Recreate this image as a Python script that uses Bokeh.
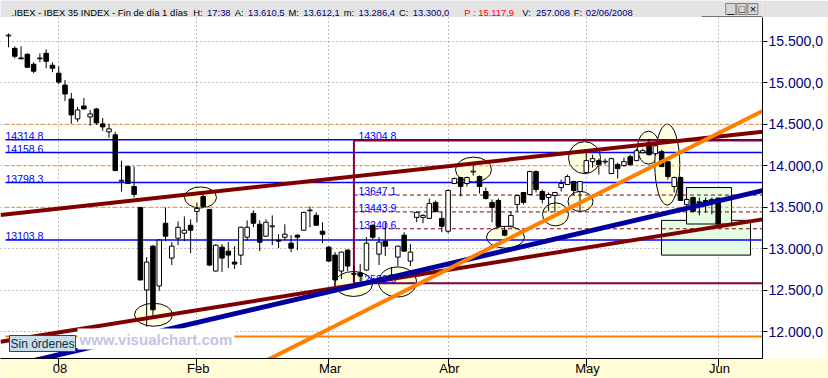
from bokeh.plotting import figure
from bokeh.models import Range1d, FixedTicker, Label
from bokeh.layouts import column
from bokeh.embed import file_html
from bokeh.resources import INLINE
from bokeh.core.properties import value

FONT = value("Liberation Sans")

# ---------------- data (bar index, OHLC) ----------------
opens = [15565, 15416, 15300, 15344, 15224, 15290, 15356, 15212, 15116, 14973,
         14805, 14565, 14721, 14589, 14685, 14505, 14409, 14373, 13815, 13990,
         13750, 13498, 12503, 13031, 12551, 13307, 12887, 13127, 13187, 13283,
         13450, 13630, 13474, 12731, 13019, 12971, 12839, 12923, 13139, 13426,
         13295, 13151, 13265, 13103, 13139, 13067, 13163, 13223, 13458, 13402,
         13211, 13019, 12923, 12731, 12983, 12690, 12707, 12743, 13283, 12935,
         13091, 12683, 12899, 13163, 12851, 13378, 13378, 13366, 13558, 13366,
         13211, 13786, 13858, 13786, 13925, 13870, 13690, 13558, 13582, 13223,
         13271, 13534, 13678, 13654, 13930, 13690, 13618, 13642, 13738, 13774,
         13810, 13690, 13918, 14050, 14062, 14045, 13906, 14014, 14002, 14110,
         14062, 14158, 14277, 14146, 14170, 14050, 13750, 13858, 13534, 13618,
         13565, 13582, 13594, 13610.5]
highs = [15596, 15440, 15440, 15356, 15248, 15356, 15404, 15248, 15200, 15033,
         14877, 14709, 14817, 14673, 14697, 14577, 14505, 14409, 14062, 14002,
         13990, 13500, 12899, 13043, 13115, 13498, 13079, 13330, 13390, 13354,
         13558, 13654, 13480, 13055, 13055, 13079, 13031, 13265, 13342, 13462,
         13342, 13354, 13402, 13175, 13295, 13163, 13175, 13445, 13510, 13438,
         13319, 13031, 12959, 12965, 12995, 12791, 12815, 13139, 13290, 13139,
         13319, 12779, 13035, 13199, 13055, 13450, 13414, 13606, 13582, 13450,
         13714, 13858, 13862, 13870, 14026, 13882, 13738, 13594, 13606, 13271,
         13450, 13648, 13685, 13942, 13942, 13714, 13678, 13685, 13834, 13894,
         13822, 13815, 14170, 14134, 14086, 14086, 14098, 14038, 14098, 14134,
         14206, 14206, 14325, 14265, 14194, 14055, 13870, 13870, 13606, 13625,
         13618, 13618, 13618, 13612.1]
lows = [15428, 15296, 15284, 15185, 15116, 15248, 15176, 15128, 14985, 14781,
        14505, 14529, 14680, 14481, 14493, 14421, 14337, 13940, 13690, 13780,
        13618, 12620, 12060, 12156, 12491, 13091, 12803, 13043, 13091, 12947,
        13319, 13505, 12791, 12725, 12719, 12767, 12755, 12803, 13103, 13259,
        12971, 13145, 13043, 13007, 13103, 12959, 12983, 13218, 13259, 13280,
        13067, 12845, 12527, 12635, 12731, 12599, 12575, 12731, 13115, 12803,
        12911, 12623, 12791, 12965, 12791, 13319, 13307, 13360, 13438, 13199,
        13187, 13780, 13630, 13750, 13882, 13666, 13594, 13319, 13247, 13151,
        13265, 13450, 13534, 13648, 13678, 13546, 13450, 13438, 13690, 13768,
        13642, 13450, 13912, 13978, 13894, 14014, 13900, 13846, 13990, 14002,
        14055, 14152, 14122, 14122, 13985, 13834, 13678, 13577, 13522, 13438,
        13402, 13438, 13414, 13286.4]
closes = [15575, 15320, 15290, 15188, 15140, 15300, 15260, 15176, 15009, 14865,
          14613, 14673, 14685, 14625, 14517, 14469, 14445, 13942, 13825, 13786,
          13654, 12623, 12839, 12264, 13103, 13151, 13031, 13259, 13223, 13223,
          13486, 13510, 12803, 13043, 12887, 12923, 12815, 13259, 13259, 13307,
          13079, 13319, 13275, 13091, 13175, 13007, 13139, 13438, 13466, 13283,
          13175, 12851, 12623, 12959, 12791, 12700, 12671, 13067, 13139, 13079,
          13031, 12659, 13031, 12971, 12959, 13438, 13402, 13546, 13450, 13271,
          13702, 13846, 13750, 13858, 13935, 13750, 13606, 13498, 13271, 13163,
          13402, 13642, 13558, 13930, 13714, 13594, 13654, 13678, 13786, 13870,
          13702, 13810, 14062, 14086, 14014, 14055, 14086, 13966, 14050, 14014,
          14182, 14182, 14134, 14241, 13990, 13870, 13858, 13582, 13594, 13450,
          13550, 13546, 13570, 13300.0]

month_tick_idx = [8, 30, 51, 70, 92, 113]
month_labels = ["08", "Feb", "Mar", "Abr", "May", "Jun"]
price_ticks = [12000, 12500, 13000, 13500, 14000, 14500, 15000, 15500]
price_labels = ["12.000,0", "12.500,0", "13.000,0", "13.500,0",
                "14.000,0", "14.500,0", "15.000,0", "15.500,0"]

# drawn objects
blue_levels = [14314.8, 14158.6, 13798.3, 13103.8]
orange_dashed_levels = [14500, 14000, 13500]
fib_start_idx = 55
fib_high = 14304.8
fib_low = 12582.9
fib_levels = [13647.1, 13443.9, 13240.6]
orange_support = 11943

trend_upper_x = [-1.274, 120.06]
trend_upper_y = [13407, 14409]
trend_lower_x = [-1.274, 120.06]
trend_lower_y = [11878, 13354]
trend_blue_x = [-1.274, 120.06]
trend_blue_y = [11558, 13700]
trend_orange_x = [38.54, 120.06]
trend_orange_y = [11557, 14661]

ell_x = [23.09, 30.57, 54.94, 61.94, 74.04, 79.14, 87.10, 91.08, 91.72, 101.9, 104.9]
ell_y = [12204, 13618, 12575, 12599, 13954, 13139, 13414, 13570, 14098, 14218, 14014]
ell_w = [38, 32, 38, 38, 36, 38, 26, 25, 32, 22, 25]
ell_h = [23, 21, 25, 30, 25, 22, 23, 20, 32, 33, 81]

box_left = [103.98, 107.96]
box_right = [118.15, 115.13]
box_top = [13342, 13738]
box_bottom = [12923, 13298]

last_close = 13300.0

X0, X1 = -1.274, 120.06
Y0, Y1 = 11676.5, 15787.7

YELLOW = "#fffcd6"

# ---------------- title bar ----------------
tf = figure(width=828, height=17, x_range=Range1d(0, 828), y_range=Range1d(0, 17),
            toolbar_location=None, output_backend="svg", min_border=0,
            x_axis_location=None, y_axis_location=None,
            background_fill_color="#e3e3e3", border_fill_color="#e3e3e3",
            outline_line_color=None)
tf.grid.visible = False
seg_x = [12, 209.5, 224.5, 254.5, 269, 313, 329, 373, 389, 433, 448, 504, 567, 582, 623, 636]
seg_t = [".IBEX - IBEX 35 INDEX - Fin de día 1 días", "H:", "17:38", "A:", "13.610,5",
         "M:", "13.612,1", "m:", "13.286,4", "C:", "13.300,0", "P : 15.117,9",
         "V:", "257.008", "F:", "02/06/2008"]
seg_c = ["black", "black", "#000080", "black", "#000080", "black", "#000080", "black",
         "#000080", "black", "#000080", "red", "black", "#000080", "black", "#000080"]
tf.text(x=seg_x, y=[5] * len(seg_x), text=seg_t, text_color=seg_c,
        text_font=FONT, text_font_size="9.4px", text_baseline="alphabetic")
tf.quad(left=[788, 800, 812], right=[799, 811, 823], top=[14, 14, 14], bottom=[3, 3, 3],
        fill_color="#d6d6d6", line_color="#808080")
tf.text(x=[793.5, 805.5, 817.5], y=[8.5, 8.5, 8.5], text=["_", "□", "×"],
        text_align="center", text_baseline="middle", text_font=FONT,
        text_font_size="11px", text_color="black")
tf.segment(x0=[762], y0=[0.5], x1=[828], y1=[0.5], line_color="black")

# ---------------- main chart ----------------
p = figure(width=828, height=361, x_range=Range1d(X0, X1), y_range=Range1d(Y0, Y1),
           output_backend="svg", toolbar_location=None,
           x_axis_location="below", y_axis_location="right",
           min_border_left=0, min_border_right=66, min_border_top=0, min_border_bottom=18,
           background_fill_color="white", border_fill_color=YELLOW,
           outline_line_color=None)

xa = p.xaxis[0]
xa.ticker = FixedTicker(ticks=month_tick_idx, minor_ticks=[])
xa.major_label_overrides = {t: "\u2009" + l for t, l in zip(month_tick_idx, month_labels)}
xa.major_tick_out = 8
xa.major_tick_in = 0
xa.major_tick_line_color = "black"
xa.axis_line_color = "black"
xa.major_label_standoff = -6
xa.major_label_text_align = "left"
xa.major_label_text_font = "Liberation Sans"
xa.major_label_text_font_size = "13px"
xa.major_label_text_color = "black"
xa.background_fill_color = YELLOW

ya = p.yaxis[0]
ya.ticker = FixedTicker(ticks=price_ticks, minor_ticks=[])
ya.major_label_overrides = {t: l for t, l in zip(price_ticks, price_labels)}
ya.major_tick_out = 5
ya.major_tick_in = 0
ya.major_tick_line_color = "black"
ya.axis_line_color = "black"
ya.major_label_standoff = 1
ya.major_label_text_font = "Liberation Sans"
ya.major_label_text_font_size = "14px"
ya.major_label_text_color = "#000080"
ya.major_label_text_align = "left"
ya.background_fill_color = "white"

for g in (p.xgrid[0], p.ygrid[0]):
    g.grid_line_color = "#808080"
    g.grid_line_dash = "1 3"
    g.grid_line_width = 1

# ellipses and boxes
p.ellipse(x=ell_x, y=ell_y, width=ell_w, height=ell_h, width_units="screen",
          height_units="screen", fill_color="#ffffe1", line_color="black", line_width=1)
p.quad(left=box_left, right=box_right, top=box_top, bottom=box_bottom,
       fill_color="#e4fce4", line_color="black", line_width=1)

LX = -0.48
# orange dashed levels
p.segment(x0=[LX] * 3, y0=orange_dashed_levels, x1=[X1] * 3, y1=orange_dashed_levels,
          line_color="#ff8000", line_width=1, line_dash="3 3")
# blue levels
p.segment(x0=[LX] * 4, y0=blue_levels, x1=[X1] * 4, y1=blue_levels,
          line_color="#0000ff", line_width=1.5)
p.text(x=[X0] * 4, y=blue_levels, text=["%.1f" % v for v in blue_levels], x_offset=5,
       y_offset=-4, text_baseline="alphabetic", text_font=FONT, text_font_size="10.5px",
       text_color="#0000ff")
# fib
p.segment(x0=[fib_start_idx] * 3, y0=fib_levels, x1=[X1] * 3, y1=fib_levels,
          line_color="#800000", line_width=1, line_dash="4 3")
p.segment(x0=[fib_start_idx, fib_start_idx, fib_start_idx],
          y0=[fib_high, fib_low, fib_high],
          x1=[X1, X1, fib_start_idx], y1=[fib_high, fib_low, fib_low],
          line_color="#800040", line_width=2)
fib_all = [fib_high] + fib_levels + [fib_low]
p.text(x=[fib_start_idx] * 5, y=fib_all, text=["%.1f" % v for v in fib_all], x_offset=4.5,
       y_offset=-4, text_baseline="alphabetic", text_font=FONT, text_font_size="10.5px",
       text_color="#0000ff")
# orange support
p.segment(x0=[LX], y0=[orange_support], x1=[X1], y1=[orange_support],
          line_color="#ff8000", line_width=2)

# candles
idx = list(range(len(opens)))
p.segment(x0=idx, y0=highs, x1=idx, y1=lows, line_color="black", line_width=1)
up = [i for i in idx if closes[i] >= opens[i]]
dn = [i for i in idx if closes[i] < opens[i]]
p.vbar(x=up, width=0.72, top=[closes[i] for i in up], bottom=[opens[i] for i in up],
       fill_color="white", line_color="black", line_width=1)
p.vbar(x=dn, width=0.72, top=[opens[i] for i in dn], bottom=[closes[i] for i in dn],
       fill_color="black", line_color="black", line_width=1)

# trend lines
p.line(trend_upper_x, trend_upper_y, line_color="#800000", line_width=4)
p.line(trend_lower_x, trend_lower_y, line_color="#800000", line_width=4)
p.line(trend_blue_x, trend_blue_y, line_color="#0000a0", line_width=5)
p.line(trend_orange_x, trend_orange_y, line_color="#ff8000", line_width=4)

# watermark and order box
p.add_layout(Label(x=77, y=9, x_units="screen", y_units="screen", text="www.visualchart.com",
                   text_font="Liberation Sans", text_font_style="bold", text_font_size="15px",
                   text_color="#c4c4e4", background_fill_color="white", padding=2))
p.add_layout(Label(x=9, y=7, x_units="screen", y_units="screen", text="Sin órdenes",
                   text_font="Liberation Sans", text_font_size="12px", text_color="#103040",
                   background_fill_color="#c8dcea", border_line_color="#404040", padding=1))
# last price tag
p.add_layout(Label(x=767, y=last_close, x_units="screen", y_units="data", text="13.300,0",
                   text_font="Liberation Sans", text_font_size="14px", text_color="#000080",
                   text_baseline="middle", background_fill_color="#ffffc0",
                   border_line_color="black", padding=1))
p.add_layout(Label(x=763, y=last_close, x_units="screen", y_units="data", text="‹",
                   text_font="Liberation Sans", text_font_size="10px", text_color="black",
                   text_baseline="middle"))

layout = column(tf, p, spacing=0)
open("out.html", "w").write(file_html(layout, INLINE))
